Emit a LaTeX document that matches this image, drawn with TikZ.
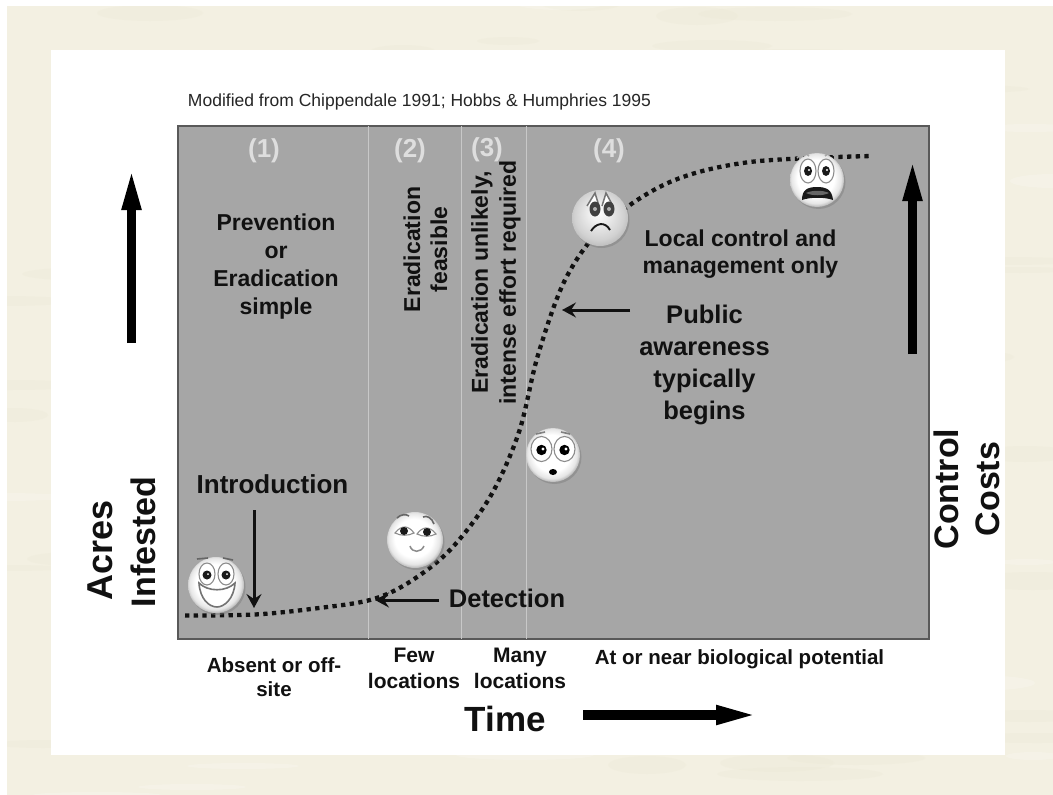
\documentclass[tikz,border=0pt]{standalone}
\usepackage{fontspec}
\setmainfont{Liberation Sans}
\usetikzlibrary{arrows.meta,calc}
\definecolor{paper}{HTML}{F3F0E2}
\definecolor{paperdk}{HTML}{ECE9D6}
\definecolor{panel}{HTML}{A6A6A6}
\definecolor{ink}{HTML}{111111}
\definecolor{numc}{HTML}{DEDEDE}
\definecolor{divc}{HTML}{C8C8C8}
\pgfdeclareradialshading{facewhite}{\pgfpoint{-2bp}{3bp}}{color(0bp)=(white);color(17bp)=(white);color(23bp)=(black!10);color(27bp)=(black!35);color(40bp)=(black!35)}
\pgfdeclareradialshading{facegrey}{\pgfpoint{-2bp}{6bp}}{color(0bp)=(white);color(8bp)=(black!6);color(22bp)=(black!18);color(30bp)=(black!30);color(40bp)=(black!30)}
\tikzset{
  lab/.style 2 args={font=\bfseries\fontsize{#1}{#2}\selectfont,text=ink,align=center,inner sep=0pt},
  num/.style={font=\bfseries\fontsize{26}{28}\selectfont,text=numc,inner sep=0pt},
  thinarrow/.style={draw=ink,line width=3pt,-{Stealth[length=14pt,width=15pt,inset=5pt]}},
  bigarrow/.style={draw=black,line width=9.5pt,-{Triangle[length=44pt,width=17pt]}},
  divider/.style={draw=divc,line width=.8pt},
  curve/.style={draw=ink,line width=4.3pt,dash pattern=on 4.3pt off 4.4pt},
  ring/.style={draw=black!45,line width=1.1pt,fill=white},
}
\newcommand{\faceball}[4]{% name, pos, radius, shading
  \fill[black!50,opacity=.5] ($(#2)+(1.5,2)$) circle (#3);
  \shade[shading=#4] (#2) circle (#3);
  \node[circle,minimum size=2*#3 pt,inner sep=0pt] (#1) at (#2) {};
}
\begin{document}
\begin{tikzpicture}[x=1pt,y=-1pt]
\useasboundingbox (0,0) rectangle (1053,795);
\fill[white] (0,0) rectangle (1053,795);
\begin{scope}
\clip (7,6) rectangle (1053,795);
\fill[paper] (0,0) rectangle (1053,795);
\pgfmathsetseed{4711}
\foreach \i in {1,...,70}{
  \pgfmathsetmacro{\xx}{random(0,1053)}
  \pgfmathsetmacro{\yy}{random(0,795)}
  \pgfmathsetmacro{\aa}{random(30,90)}
  \pgfmathsetmacro{\bb}{random(3,9)}
  \fill[paperdk,opacity=.3] (\xx,\yy) ellipse (\aa pt and \bb pt);
}
\foreach \i in {1,...,40}{
  \pgfmathsetmacro{\xx}{random(0,1053)}
  \pgfmathsetmacro{\yy}{random(0,795)}
  \pgfmathsetmacro{\aa}{random(20,70)}
  \pgfmathsetmacro{\bb}{random(3,8)}
  \fill[white,opacity=.18] (\xx,\yy) ellipse (\aa pt and \bb pt);
}
\end{scope}
\fill[white] (51,50) rectangle (1005,755);
\node[draw=black!65,line width=1.2pt,fill=panel,minimum width=751pt,minimum height=513pt,inner sep=0pt] (plot) at (553.5,382.5) {};
\draw[divider] (368.5,126) -- (368.5,639);
\draw[divider] (461,126) -- (461,639);
\draw[divider] (526,126) -- (526,639);

\node[inner sep=0pt,font=\fontsize{17.5}{20}\selectfont,text=black!85] (src) at (419.5,102) {Modified from Chippendale 1991; Hobbs \& Humphries 1995};

\node[num] (n1) at (264,151) {(1)};
\node[num] (n2) at (410,151) {(2)};
\node[num] (n3) at (487,150) {(3)};
\node[num] (n4) at (609,151) {(4)};

\node[lab={23}{28}] (prev) at (276,267) {Prevention\\or\\Eradication\\simple};
\node[lab={23}{27},rotate=90] (feas) at (425.5,249.5) {Eradication\\feasible};
\node[lab={23}{28},rotate=90] (unlik) at (496,282.5) {Eradication unlikely,\\intense effort required};
\node[lab={23}{27}] (local) at (740.5,254) {Local control and\\management only};
\node[lab={25.5}{32}] (pub) at (704.5,365) {Public\\awareness\\typically\\begins};
\node[lab={26}{28}] (intro) at (272.5,484) {Introduction};
\node[lab={25.5}{28}] (det) at (507,598) {Detection};

\node[lab={20.5}{24}] (absent) at (274,677) {Absent or off-\\site};
\node[lab={21}{26}] (few) at (414,668) {Few\\locations};
\node[lab={21}{26}] (many) at (520,668.5) {Many\\locations};
\node[lab={20.5}{24}] (bio) at (739.5,659) {At or near biological potential};
\node[lab={35}{38}] (time) at (505.5,719) {Time};
\node[lab={36}{42},rotate=90] (acres) at (100.5,550) {Acres};
\node[lab={34}{42},rotate=90] (infested) at (143,542) {Infested};
\node[lab={34}{41},rotate=90] (costs) at (967,489) {Control\\Costs};

% logistic curve
\draw[curve] plot[smooth,tension=.55] coordinates {(185,615.5) (255,614.5) (315,608.5) (370,600) (408,583) (450,550) (490,497) (519,432) (538,355) (566,278) (606,224) (670,182) (750,162) (872,156)};

% arrows
\coordinate (a1s) at (254,510); \coordinate (a1e) at (254,608);
\coordinate (a2s) at (439,600); \coordinate (a2e) at (375,600);
\coordinate (a3s) at (630,310); \coordinate (a3e) at (562,310);
\draw[thinarrow] (a1s) -- (a1e);
\draw[thinarrow] (a2s) -- (a2e);
\draw[thinarrow] (a3s) -- (a3e);
\coordinate (b1s) at (131.5,343); \coordinate (b1e) at (131.5,166);
\coordinate (b2s) at (912.5,354); \coordinate (b2e) at (912.5,157);
\coordinate (b3s) at (583,715); \coordinate (b3e) at (760,715);
\draw[bigarrow] (b1s) -- (b1e);
\draw[bigarrow] (b2s) -- (b2e);
\draw[bigarrow] (b3s) -- (b3e);

% face 1: happy
\faceball{f1}{216,585}{28}{facewhite}
\begin{scope}[shift={(216,585)}]
  \draw[ring] (-9,-11) ellipse (8 and 11);
  \draw[ring] (10,-11) ellipse (8 and 11);
  \fill[black!90] (-9,-10) circle (4.5); \fill[black!90] (10,-10) circle (4.5);
  \fill[white] (-8,-11) circle (1); \fill[white] (11,-11) circle (1);
  \draw[black!55,line width=1.6pt,fill=white] (-17,-2) .. controls (-8,7) and (10,7) .. (19,-2) .. controls (18,14) and (8,22) .. (1,22) .. controls (-7,22) and (-16,14) .. (-17,-2) -- cycle;
  \draw[black!60,line width=1.6pt] (-19,-26) -- (-8,-27) (7,-27) -- (17,-25);
\end{scope}
% face 2: calm
\faceball{f2}{415,540}{28}{facewhite}
\begin{scope}[shift={(415,540)}]
  \draw[black!60,line width=1.6pt] (-18,-22) .. controls (-14,-26) and (-9,-26) .. (-6,-24) (8,-23) .. controls (12,-25) and (17,-22) .. (19,-16);
  \draw[black!45,line width=1.1pt,fill=white] (-20,-7) .. controls (-13,-16) and (-6,-14) .. (-1,-7) .. controls (-7,-4) and (-14,-4) .. (-20,-7) -- cycle;
  \draw[black!45,line width=1.1pt,fill=white] (21,-6) .. controls (14,-15) and (7,-13) .. (2,-6) .. controls (8,-3) and (15,-3) .. (21,-6) -- cycle;
  \fill[black!90] (-11,-9) circle (4); \fill[black!90] (12,-8) circle (4);
  \draw[black!45,line width=1.5pt] (-5,6) .. controls (-3,13) and (6,13) .. (9,6);
\end{scope}
% face 3: surprised
\faceball{f3}{553,455}{27}{facewhite}
\begin{scope}[shift={(553,455)}]
  \draw[ring] (-11.5,-6) ellipse (10.5 and 12.5);
  \draw[ring] (11.5,-6) ellipse (10.5 and 12.5);
  \fill[black] (-11.5,-5) circle (5.2); \fill[black] (11.5,-5) circle (5.2);
  \fill[white] (-10,-6) circle (1.6); \fill[white] (13,-6) circle (1.6);
  \draw[black!50,line width=1.6pt] (-17,-21) -- (-8,-23) (8,-23) -- (17,-21);
  \fill[black] (0,17) ellipse (4 and 3);
\end{scope}
% face 4: worried
\faceball{f4}{600,218}{28}{facegrey}
\begin{scope}[shift={(600,218)}]
  \draw[black!55,line width=1.5pt,fill=white] (-13,-12) -- (-5,-25) -- (-1,-12);
  \draw[black!55,line width=1.5pt,fill=white] (13,-12) -- (6,-25) -- (2,-12);
  \fill[black!75] (-5,-9) ellipse (5.5 and 7.5); \fill[black!75] (9,-9) ellipse (5.5 and 7.5);
  \fill[black!30] (-5,-9) circle (2); \fill[black!30] (9,-9) circle (2);
  \draw[black!90,line width=1.9pt] (-9,13) .. controls (-4,5) and (5,3) .. (10,12);
\end{scope}
% face 5: scream
\faceball{f5}{817,180}{27}{facewhite}
\begin{scope}[shift={(817,180)}]
  \draw[ring] (-9,-9) ellipse (8 and 12);
  \draw[ring] (9,-9) ellipse (8 and 12);
  \fill[black!90] (-9,-9) ellipse (4 and 5); \fill[black!90] (9,-9) ellipse (4 and 5);
  \fill[white] (-8,-10) circle (1.1); \fill[white] (10,-10) circle (1.1);
  \fill[black!90] (-15,20) .. controls (-15,10) and (-10,7) .. (0,7) .. controls (10,7) and (15,10) .. (16,20) .. controls (8,17) and (-7,17) .. (-15,20) -- cycle;
  \fill[black!60] (-11,13) .. controls (-5,10) and (6,10) .. (12,13) .. controls (6,16) and (-5,16) .. (-11,13) -- cycle;
  \draw[black!35,line width=1.5pt] (-20,-22) -- (-13,-28) -- (-8,-24) (8,-24) -- (13,-28) -- (20,-22);
\end{scope}
\end{tikzpicture}
\end{document}
